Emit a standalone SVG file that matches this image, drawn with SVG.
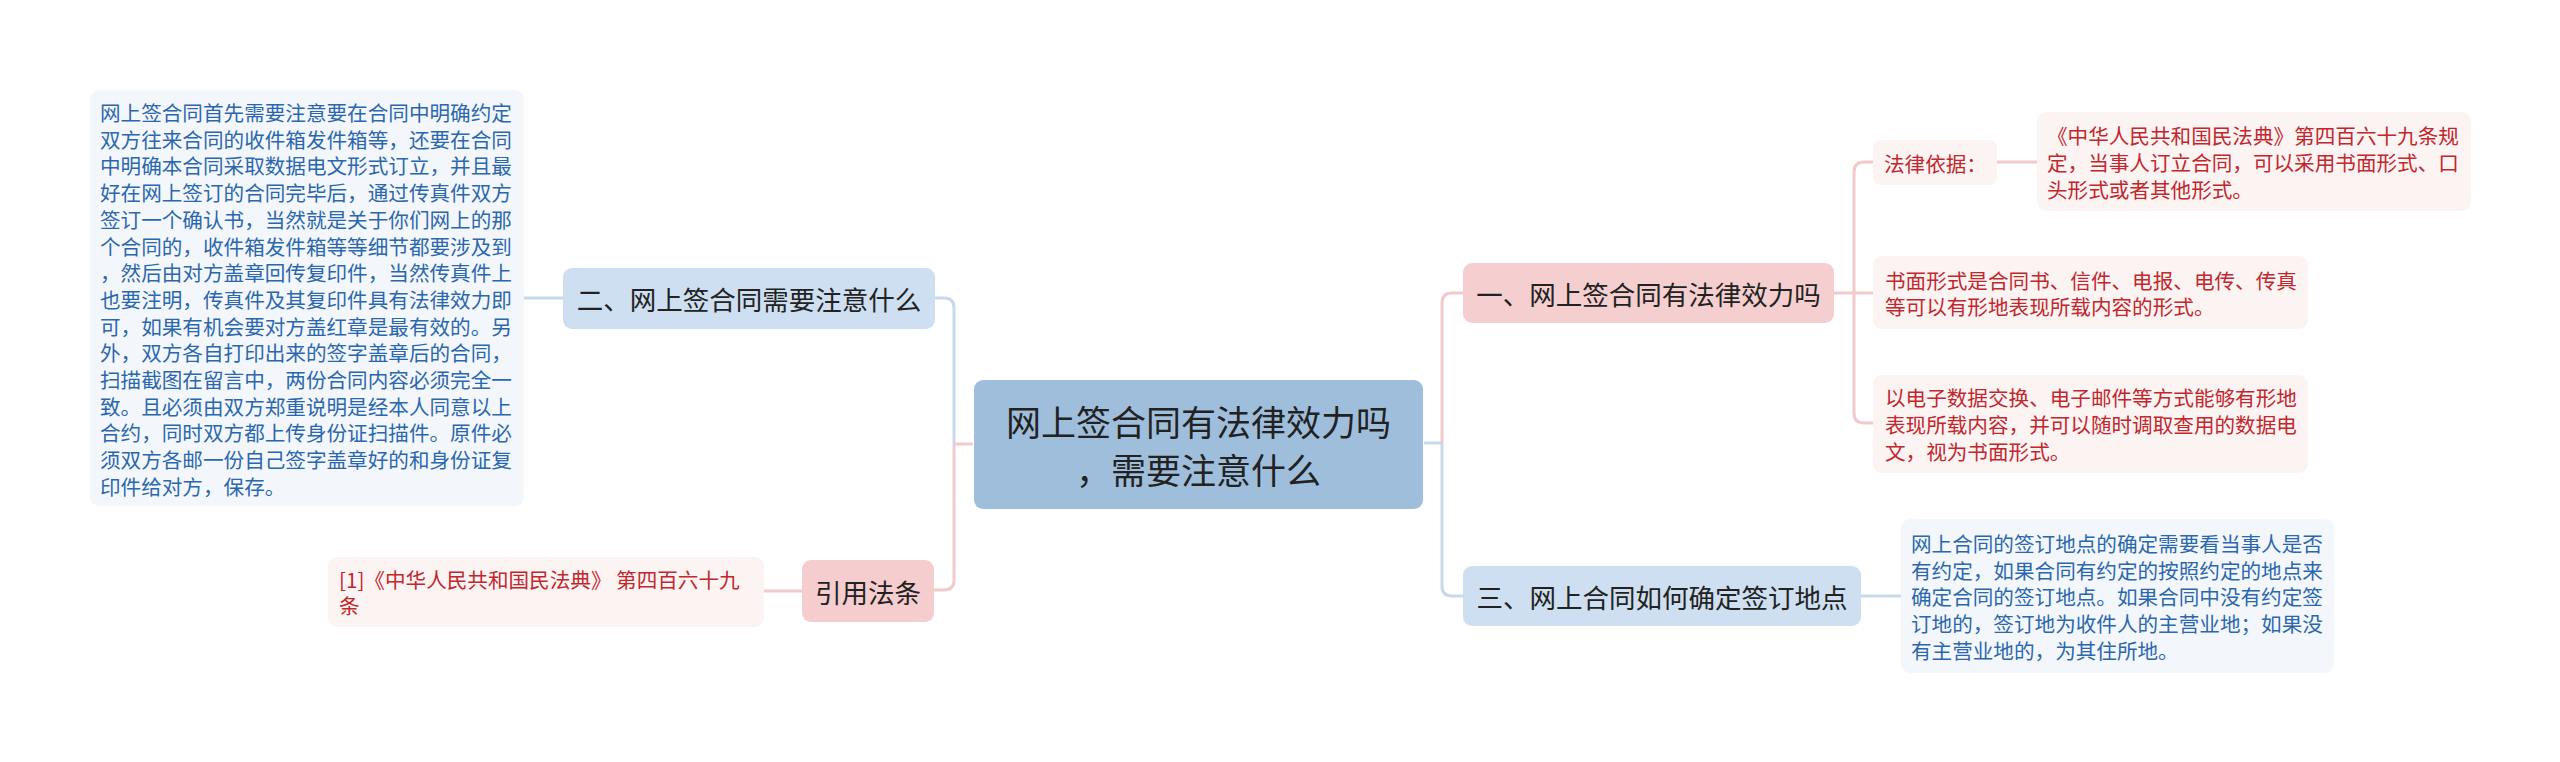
<svg xmlns="http://www.w3.org/2000/svg" width="2560" height="762" viewBox="0 0 2560 762">
<style>
text{font-family:"Noto Sans CJK SC","Noto Sans",sans-serif;dominant-baseline:central}
.node{font-size:26.5px;fill:#222;text-anchor:middle}
.root{font-size:35px;fill:#222;text-anchor:middle}
.db{font-size:20.6px;fill:#2b67ad}
.dr{font-size:20.6px;fill:#c1272d}
.cb{fill:none;stroke:#c9d9eb;stroke-width:3}
.cp{fill:none;stroke:#f2c9cc;stroke-width:3}
</style>
<rect width="2560" height="762" fill="#ffffff"/>
<g id="connectors">
<path class="cp" d="M973,444 H954"/>
<path class="cb" d="M954,444 V308 Q954,298 944,298 H935"/>
<path class="cp" d="M954,444 V580 Q954,590 944,590 H934"/>
<path class="cb" d="M563,298 H524"/>
<path class="cp" d="M803,591 H764"/>
<path class="cb" d="M1424,443 H1442"/>
<path class="cp" d="M1442,443 V303 Q1442,293 1452,293 H1463"/>
<path class="cb" d="M1442,443 V586 Q1442,596 1452,596 H1463"/>
<path class="cp" d="M1834,293 H1873"/>
<path class="cp" d="M1854,293 V172 Q1854,162 1864,162 H1873"/>
<path class="cp" d="M1854,293 V413 Q1854,423 1864,423 H1873"/>
<path class="cp" d="M1997,162 H2037"/>
<path class="cb" d="M1861,596 H1901"/>
</g>
<g id="root">
<rect x="974" y="380" width="449" height="129" rx="9" fill="#9fbedc"/>
<text class="root" x="1198.5" y="420">网上签合同有法律效力吗</text>
<text class="root" x="1198.5" y="468">，需要注意什么</text>
</g>
<g id="n2">
<rect x="563" y="268" width="372" height="61" rx="9" fill="#cddff0"/>
<text class="node" x="749" y="298.5">二、网上签合同需要注意什么</text>
</g>
<g id="n2-detail">
<rect x="90" y="90" width="434" height="416" rx="9" fill="#f3f7fc"/>
<text class="db" x="100" y="112">网上签合同首先需要注意要在合同中明确约定</text>
<text class="db" x="100" y="138.7">双方往来合同的收件箱发件箱等，还要在合同</text>
<text class="db" x="100" y="165.4">中明确本合同采取数据电文形式订立，并且最</text>
<text class="db" x="100" y="192.1">好在网上签订的合同完毕后，通过传真件双方</text>
<text class="db" x="100" y="218.8">签订一个确认书，当然就是关于你们网上的那</text>
<text class="db" x="100" y="245.5">个合同的，收件箱发件箱等等细节都要涉及到</text>
<text class="db" x="100" y="272.2">，然后由对方盖章回传复印件，当然传真件上</text>
<text class="db" x="100" y="298.9">也要注明，传真件及其复印件具有法律效力即</text>
<text class="db" x="100" y="325.6">可，如果有机会要对方盖红章是最有效的。另</text>
<text class="db" x="100" y="352.3">外，双方各自打印出来的签字盖章后的合同，</text>
<text class="db" x="100" y="379">扫描截图在留言中，两份合同内容必须完全一</text>
<text class="db" x="100" y="405.7">致。且必须由双方郑重说明是经本人同意以上</text>
<text class="db" x="100" y="432.4">合约，同时双方都上传身份证扫描件。原件必</text>
<text class="db" x="100" y="459.1">须双方各邮一份自己签字盖章好的和身份证复</text>
<text class="db" x="100" y="485.8">印件给对方，保存。</text>
</g>
<g id="cite">
<rect x="802" y="560" width="132" height="62" rx="9" fill="#f5cdce"/>
<text class="node" x="868" y="591">引用法条</text>
</g>
<g id="cite-detail">
<rect x="328" y="557" width="436" height="70" rx="9" fill="#fcf3f3"/>
<text class="dr" x="339" y="578.5">[1]《中华人民共和国民法典》 第四百六十九</text>
<text class="dr" x="339" y="605.2">条</text>
</g>
<g id="n1">
<rect x="1463" y="263" width="371" height="60" rx="9" fill="#f5cfd0"/>
<text class="node" x="1648.5" y="293">一、网上签合同有法律效力吗</text>
</g>
<g id="n1-basis">
<rect x="1873" y="140" width="124" height="45" rx="8" fill="#fcf3f3"/>
<text class="dr" x="1884" y="162.5">法律依据：</text>
</g>
<g id="n1-basis-detail">
<rect x="2037" y="112" width="434" height="99" rx="9" fill="#fcf3f3"/>
<text class="dr" x="2047" y="135.3">《中华人民共和国民法典》第四百六十九条规</text>
<text class="dr" x="2047" y="162">定，当事人订立合同，可以采用书面形式、口</text>
<text class="dr" x="2047" y="188.7">头形式或者其他形式。</text>
</g>
<g id="n1-written">
<rect x="1873" y="256" width="435" height="73" rx="9" fill="#fcf3f3"/>
<text class="dr" x="1885" y="279.6">书面形式是合同书、信件、电报、电传、传真</text>
<text class="dr" x="1885" y="306.3">等可以有形地表现所载内容的形式。</text>
</g>
<g id="n1-electronic">
<rect x="1873" y="375" width="435" height="98" rx="9" fill="#fcf3f3"/>
<text class="dr" x="1885" y="397.3">以电子数据交换、电子邮件等方式能够有形地</text>
<text class="dr" x="1885" y="424">表现所载内容，并可以随时调取查用的数据电</text>
<text class="dr" x="1885" y="450.7">文，视为书面形式。</text>
</g>
<g id="n3">
<rect x="1463" y="566" width="398" height="60" rx="9" fill="#cddff0"/>
<text class="node" x="1662" y="596.5">三、网上合同如何确定签订地点</text>
</g>
<g id="n3-detail">
<rect x="1901" y="519" width="433" height="154" rx="9" fill="#f3f7fc"/>
<text class="db" x="1911" y="543">网上合同的签订地点的确定需要看当事人是否</text>
<text class="db" x="1911" y="569.7">有约定，如果合同有约定的按照约定的地点来</text>
<text class="db" x="1911" y="596.4">确定合同的签订地点。如果合同中没有约定签</text>
<text class="db" x="1911" y="623.1">订地的，签订地为收件人的主营业地；如果没</text>
<text class="db" x="1911" y="649.8">有主营业地的，为其住所地。</text>
</g>
</svg>
